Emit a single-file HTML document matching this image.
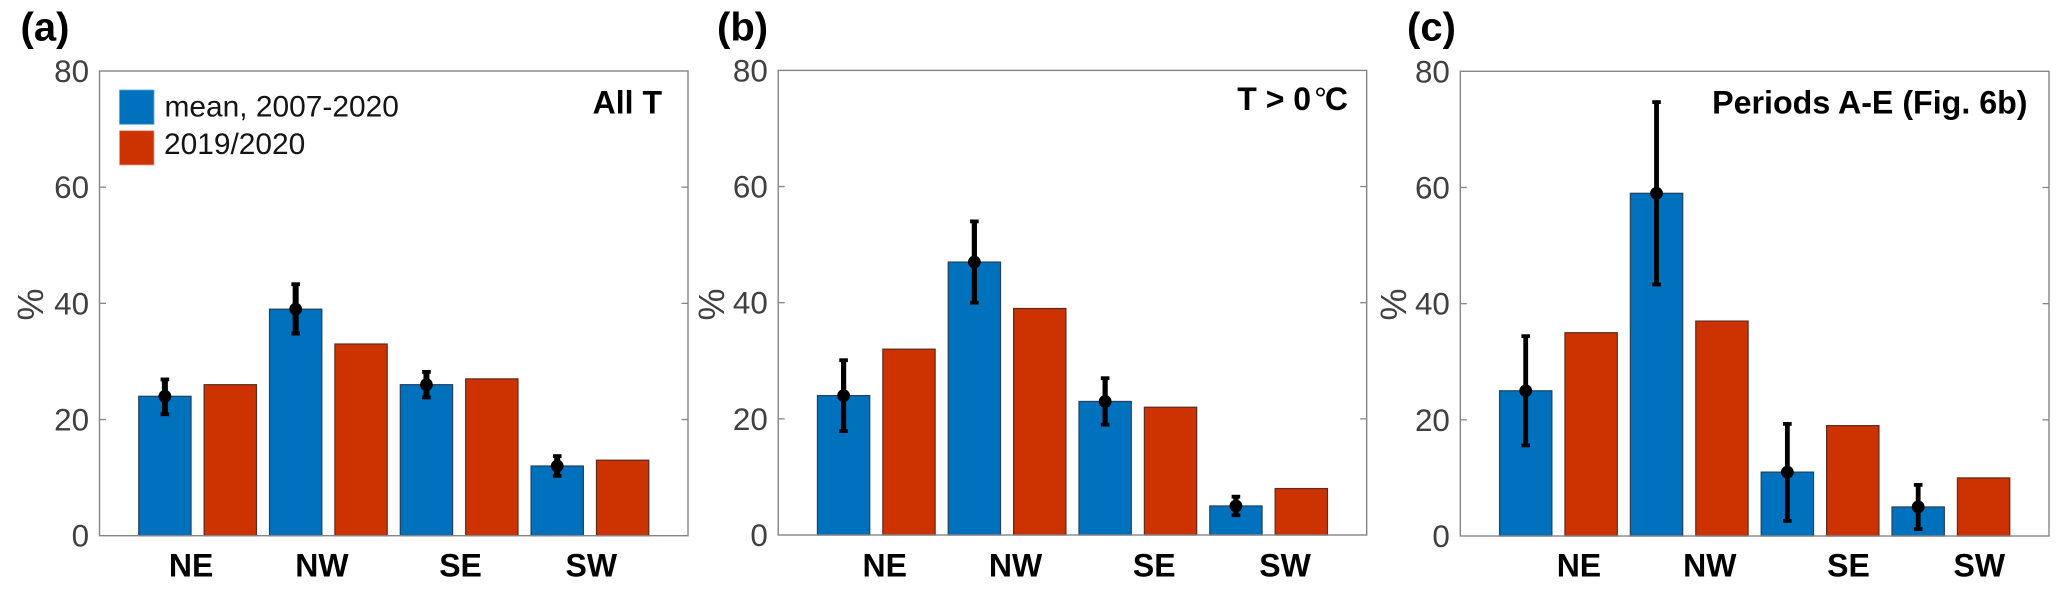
<!DOCTYPE html>
<html lang="en">
<head>
<meta charset="utf-8">
<title>Wind sector occurrence, three panels</title>
<style>
html,body{margin:0;padding:0;background:#fff;}
svg{display:block;font-family:"Liberation Sans",Arial,sans-serif;}
</style>
</head>
<body>
<svg id="chart" xmlns="http://www.w3.org/2000/svg" width="2067" height="590" viewBox="0 0 2067 590"></svg>
<script>
// ---- chart data (%) ----
const categories = ['NE', 'NW', 'SE', 'SW'];
const yTickLabels = [0, 20, 40, 60, 80];

const meanA = [24, 39, 26, 12];
const yearA = [26, 33, 27, 13];
const upperA = [26.9, 43.3, 28.2, 13.7];
const lowerA = [20.9, 34.8, 23.8, 10.3];

const meanB = [24, 47, 23, 5];
const yearB = [32, 39, 22, 8];
const upperB = [30.1, 54.0, 27.0, 6.6];
const lowerB = [17.9, 40.0, 19.0, 3.4];

const meanC = [25, 59, 11, 5];
const yearC = [35, 37, 19, 10];
const upperC = [34.4, 74.7, 19.3, 8.8];
const lowerC = [15.6, 43.3, 2.6, 1.2];

// ---- layout / style ----
const NS = 'http://www.w3.org/2000/svg';
const svg = document.getElementById('chart');
const BLUE = '#0072BD', RED = '#CC3300', AXIS = '#858585', TICKTEXT = '#404040';

function make(tag, attrs, parent, text) {
  const el = document.createElementNS(NS, tag);
  for (const k in attrs) el.setAttribute(k, attrs[k]);
  if (text !== undefined) el.textContent = text;
  parent.appendChild(el);
  return el;
}

function drawPanel(cfg) {
  const xScale = function (slot) { return cfg.left + (cfg.right - cfg.left) * slot / 9; };
  const yScale = function (v) { return cfg.bottom - (cfg.bottom - cfg.top) * v / 80; };
  const slotWidth = (cfg.right - cfg.left) / 9;
  const barW = slotWidth * 0.8;

  const g = make('g', {}, svg);
  
  

  const letter = make('text', {x: cfg.letterX, y: 40.5, 'font-size': 40, 'font-weight': 'bold', fill: '#000'}, g, '(' + cfg.id + ')');
  
  

  // bars
  categories.forEach(function (cat, i) {
    const blueX = xScale(1 + 2 * i);
    const redX = xScale(2 + 2 * i);

    const blueBar = make('rect', {x: blueX - barW / 2, y: yScale(cfg.mean[i]), width: barW, height: yScale(0) - yScale(cfg.mean[i]), fill: BLUE, stroke: '#23405c', 'stroke-width': 1.2}, g);
    
    

    const redBar = make('rect', {x: redX - barW / 2, y: yScale(cfg.year[i]), width: barW, height: yScale(0) - yScale(cfg.year[i]), fill: RED, stroke: '#5c2a20', 'stroke-width': 1.2}, g);
    
    
  });

  // axes box
  const box = make('rect', {x: cfg.left, y: cfg.top, width: cfg.right - cfg.left, height: cfg.bottom - cfg.top, fill: 'none', stroke: AXIS, 'stroke-width': 1.4}, g);
  
  

  // y ticks and labels
  yTickLabels.forEach(function (t) {
    const y = yScale(t);
    const label = make('text', {x: cfg.left - 10.4, y: y + 11, 'text-anchor': 'end', 'font-size': 31.4, fill: TICKTEXT}, g, String(t));
    
    
    if (t > 0 && t < 80) {
      const tl = make('line', {x1: cfg.left, x2: cfg.left + 6.5, y1: y, y2: y, stroke: AXIS, 'stroke-width': 1.3}, g);
      
      
      const tr = make('line', {x1: cfg.right - 6.5, x2: cfg.right, y1: y, y2: y, stroke: AXIS, 'stroke-width': 1.3}, g);
      
      
    }
  });

  // y axis title
  const yTitle = make('text', {transform: 'translate(' + (cfg.left + cfg.titleOffset) + ',304.5) rotate(-90)', 'text-anchor': 'middle', 'font-size': 36, fill: TICKTEXT}, g, '%');
  
  

  // x category labels
  categories.forEach(function (cat, i) {
    const cx = xScale(1.5 + 2 * i) + cfg.labelShift + (i < 2 ? -6.5 : 1.4);
    const lab = make('text', {x: cx, y: 576.7, 'text-anchor': 'middle', 'font-size': 32, 'font-weight': 'bold', fill: '#000'}, g, cat);
    
    
  });

  // error bars + mean markers
  categories.forEach(function (cat, i) {
    const x = xScale(1 + 2 * i);
    const stem = make('line', {x1: x, x2: x, y1: yScale(cfg.upper[i]), y2: yScale(cfg.lower[i]), stroke: '#000', 'stroke-width': cfg.stemWidth}, g);
    
    

    const capTop = make('line', {x1: x - 4.3, x2: x + 4.3, y1: yScale(cfg.upper[i]), y2: yScale(cfg.upper[i]), stroke: '#000', 'stroke-width': 3.8}, g);
    
    

    const capBottom = make('line', {x1: x - 4.3, x2: x + 4.3, y1: yScale(cfg.lower[i]), y2: yScale(cfg.lower[i]), stroke: '#000', 'stroke-width': 3.8}, g);
    
    

    const dot = make('circle', {cx: x, cy: yScale(cfg.mean[i]), r: 6.4, fill: '#000'}, g);
    
    
  });
  return g;
}

drawPanel({id: 'a', left: 99.5, right: 688, top: 71, bottom: 535.7, letterX: 20.5, labelShift: 0, titleOffset: -56.5, stemWidth: 6,
  mean: meanA, year: yearA, upper: upperA, lower: lowerA});
drawPanel({id: 'b', left: 778.2, right: 1366.7, top: 70.4, bottom: 535, letterX: 717, labelShift: 15, titleOffset: -54.2, stemWidth: 5.2,
  mean: meanB, year: yearB, upper: upperB, lower: lowerB});
drawPanel({id: 'c', left: 1460.3, right: 2049, top: 71.3, bottom: 536, letterX: 1407, labelShift: 27, titleOffset: -54.3, stemWidth: 4.8,
  mean: meanC, year: yearC, upper: upperC, lower: lowerC});
</script>
<script>
// ---- annotations and legend (panel a) ----
(function () {
  const s = document.getElementById('chart');
  const markup =
    '<rect x="119.5" y="90" width="34.5" height="34.3" fill="#0072BD" stroke="#5aa6dc" stroke-width="0.8"/>' +
    '<rect x="119.5" y="130.7" width="34.5" height="34.3" fill="#CC3300" stroke="#ea9a85" stroke-width="0.8"/>' +
    '<text x="164.5" y="116.7" font-size="29.9" fill="#141414">mean, 2007-2020</text>' +
    '<text x="164" y="154" font-size="29.9" fill="#141414">2019/2020</text>' +
    '<text x="662" y="113.3" text-anchor="end" font-size="32" font-weight="bold" fill="#000">All T</text>' +
    '<text x="1348" y="110" text-anchor="end" font-size="32" font-weight="bold" fill="#000">T &gt; 0<tspan dx="3" font-weight="normal">°</tspan><tspan dx="-2">C</tspan></text>' +
    '<text x="2027.5" y="113.3" text-anchor="end" font-size="32.2" font-weight="bold" fill="#000">Periods A-E (Fig. 6b)</text>';
  const wrap = document.createElementNS('http://www.w3.org/2000/svg', 'g');
  
  
  wrap.innerHTML = markup;
  s.appendChild(wrap);
})();
</script>
</body>
</html>
